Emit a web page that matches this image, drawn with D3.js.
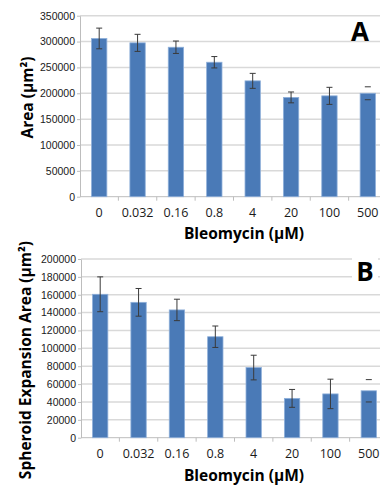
<!DOCTYPE html>
<html>
<head>
<meta charset="utf-8">
<script src="https://cdn.jsdelivr.net/npm/d3@7"></script>
<style>
  body { margin: 0; background: #fff; }
  svg { display: block; font-family: "Open Sans", sans-serif; }
  .grid line { stroke: #d9d9d9; stroke-width: 1.5; }
  .axis path, .axis line { stroke: #bdbdbd; }
  .axis text { fill: #1a1a1a; }
  .bar { fill: #4a7ab7; stroke: #8fb0da; stroke-width: 0.8; }
  .err { stroke: #3a3a3a; stroke-width: 1; }
  .title { font-weight: bold; fill: #000; }
</style>
</head>
<body>
<svg width="380" height="485"></svg>
<script>
// Bleomycin concentrations (uM)
const doses = ["0", "0.032", "0.16", "0.8", "4", "20", "100", "500"];

// Panel A: spheroid area (um^2), mean and error
const areaMean = [306000, 297500, 289000, 260000, 224000, 192000, 195000, 200000];
const areaErr = [20000, 16500, 12000, 11000, 14500, 10500, 16500, 12500];
const areaTicks = [0, 50000, 100000, 150000, 200000, 250000, 300000, 350000];

// Panel B: spheroid expansion area (um^2)
const expMean = [160500, 151500, 143000, 113000, 78500, 44000, 49000, 52500];
const expErr = [19500, 15500, 12000, 12000, 13800, 10000, 16500, 12500];
const expTicks = [0, 20000, 40000, 60000, 80000, 100000, 120000, 140000, 160000, 180000, 200000];

const svg = d3.select("svg");

function drawPanel(opts) {
    var g = svg.append("g");

    var x = d3.scaleBand()
        .domain(doses)
        .range([opts.x0, opts.x0 + 307])
        .paddingInner(0.6)
        .paddingOuter(0.3);

    var y = d3.scaleLinear()
        .domain([0, opts.ticks[opts.ticks.length - 1]])
        .range([opts.y0, opts.y1]);

    // Horizontal gridlines.
    g.append("g")
        .attr("class", "grid")
        .selectAll("line")
        .data(opts.ticks.slice(1))
        .join("line")
        .attr("x1", opts.x0)
        .attr("x2", 380)
        .attr("y1", d => y(d))
        .attr("y2", d => y(d));

    var yAxis = g.append("g")
        .attr("class", "axis")
        .attr("transform", "translate(" + opts.x0 + ",0)")
        .call(d3.axisLeft(y).tickValues(opts.ticks).tickFormat(d3.format("d")).tickSize(3).tickSizeOuter(0));
    yAxis.selectAll("text").attr("font-size", 10.5).attr("dx", 1);

    // X axis: line with ticks between the categories.
    var xg = g.append("g").attr("class", "axis");
    xg.append("line")
        .attr("x1", opts.x0)
        .attr("x2", 380)
        .attr("y1", opts.y0)
        .attr("y2", opts.y0);
    xg.selectAll(".xt")
        .data(doses.slice(1))
        .join("line")
        .attr("class", "xt")
        .attr("x1", d => x(d) - x.step() * 0.3)
        .attr("x2", d => x(d) - x.step() * 0.3)
        .attr("y1", opts.y0)
        .attr("y2", opts.y0 + 4);
    xg.selectAll("text")
        .data(doses)
        .join("text")
        .attr("x", d => x(d) + x.bandwidth() / 2)
        .attr("y", opts.y0 + 20.5)
        .attr("text-anchor", "middle")
        .attr("font-size", 12.5)
        .text(d => d);

    // Bars.
    g.selectAll(".bar")
        .data(doses)
        .join("rect")
        .attr("class", "bar")
        .attr("x", d => x(d))
        .attr("width", x.bandwidth())
        .attr("y", (d, i) => y(opts.mean[i]))
        .attr("height", (d, i) => opts.y0 - y(opts.mean[i]));

    // Error bars. The 500 uM bar only shows its caps in the source.
    doses.forEach(function(d, i) {
        var cx = x(d) + x.bandwidth() / 2;
        var hi = y(opts.mean[i] + opts.err[i]);
        var lo = y(opts.mean[i] - opts.err[i]);
        if (d != "500") {
            g.append("line").attr("class", "err")
                .attr("x1", cx).attr("x2", cx).attr("y1", hi).attr("y2", lo);
        }
        [hi, lo].forEach(function(yy) {
            g.append("line").attr("class", "err")
                .attr("x1", cx - 3).attr("x2", cx + 3).attr("y1", yy).attr("y2", yy);
        });
    });

    // Axis titles.
    g.append("text")
        .attr("class", "title")
        .attr("x", 244)
        .attr("y", opts.titleY)
        .attr("text-anchor", "middle")
        .attr("font-size", 15.5)
        .text("Bleomycin (\u00b5M)");

    g.append("text")
        .attr("class", "title")
        .attr("transform", "translate(" + opts.yTitleX + "," + opts.yTitleY + ") rotate(-90)")
        .attr("text-anchor", "middle")
        .attr("font-size", opts.yTitleSize)
        .text(opts.yTitle);

    // Panel letter.
    if (opts.letterBox) {
        g.append("rect")
            .attr("x", 352).attr("y", 257).attr("width", 26).attr("height", 26)
            .attr("fill", "#fff");
    }
    g.append("text")
        .attr("class", "title")
        .attr("x", opts.letterX)
        .attr("y", opts.letterY)
        .attr("text-anchor", "middle")
        .attr("font-size", 26)
        .text(opts.letter);
}

drawPanel({
    x0: 80, y0: 196.7, y1: 15.7,
    mean: areaMean, err: areaErr, ticks: areaTicks,
    titleY: 238.5,
    yTitle: "Area (\u00b5m\u00b2)", yTitleX: 33, yTitleY: 97.5, yTitleSize: 15.5,
    letter: "A", letterX: 360, letterY: 40.5
});

drawPanel({
    x0: 81, y0: 437.7, y1: 259,
    mean: expMean, err: expErr, ticks: expTicks,
    titleY: 480.5,
    yTitle: "Spheroid Expansion Area (\u00b5m\u00b2)", yTitleX: 31, yTitleY: 360, yTitleSize: 15.5,
    letter: "B", letterX: 365, letterY: 280.5, letterBox: true
});
</script>
</body>
</html>
